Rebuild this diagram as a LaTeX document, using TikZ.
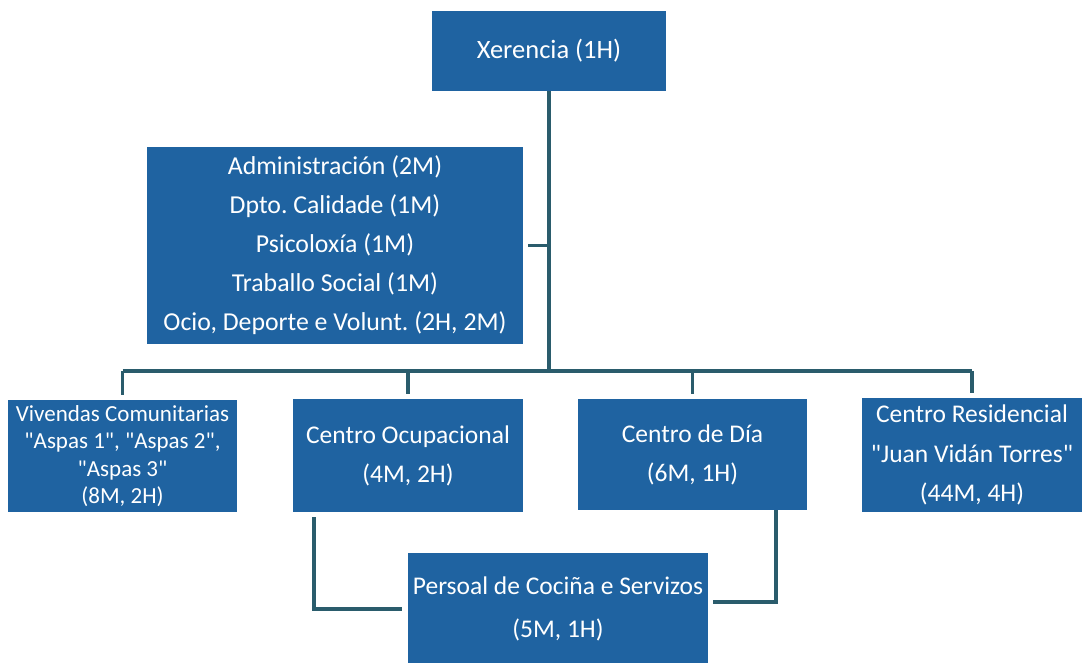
\documentclass[tikz,border=0pt]{standalone}
\usepackage{fontspec}
\setmainfont{Carlito}
\newfontfamily\quotefont{Carlito}[Ligatures=TeXOff]
\usetikzlibrary{calc}
\definecolor{boxblue}{RGB}{31,99,161}
\definecolor{connteal}{RGB}{42,92,108}
\newcommand{\sq}{{\quotefont\symbol{34}}}
\frenchspacing
\begin{document}
\begin{tikzpicture}[x=1pt,y=-1pt,
  box/.style={fill=boxblue,draw=none,text=white,align=center,inner sep=0pt,
    font=\fontsize{25.8}{39}\selectfont},
  conn/.style={draw=connteal,line width=3.5pt,line join=miter}]
\useasboundingbox (0,0) rectangle (1086,662);
\node[box,minimum width=234pt,minimum height=80pt,font=\fontsize{26.5}{32}\selectfont] (xer) at (549,51) {Xerencia (1H)};
\node[box,minimum width=376pt,minimum height=197pt] (mid) at (335,245.5)
  {Administración (2M)\\Dpto. Calidade (1M)\\Psicoloxía (1M)\\Traballo Social (1M)\\Ocio, Deporte e Volunt. (2H, 2M)};
\node[box,minimum width=229pt,minimum height=112pt,font=\fontsize{23}{27.5}\selectfont] (b1) at (122.5,456)
  {Vivendas Comunitarias\\\sq Aspas 1\sq, \sq Aspas 2\sq,\\\sq Aspas 3\sq\\(8M, 2H)};
\node[box,minimum width=230pt,minimum height=113pt,font=\fontsize{25.5}{39}\selectfont] (b2) at (408,455.5)
  {Centro Ocupacional\\(4M, 2H)};
\node[box,minimum width=229pt,minimum height=111pt,font=\fontsize{25.5}{39}\selectfont] (b3) at (692.5,454.5)
  {Centro de Día\\(6M, 1H)};
\node[box,minimum width=220pt,minimum height=114pt,font=\fontsize{25.5}{39.5}\selectfont] (b4) at (972,455)
  {Centro Residencial\\\sq Juan Vidán Torres\sq\\(44M, 4H)};
\node[box,minimum width=300pt,minimum height=112pt,font=\fontsize{25.5}{43}\selectfont] (per) at (558,609)
  {Persoal de Cociña e Servizos\\(5M, 1H)};
\coordinate (bus) at (549,371);
\draw[conn] (xer.south) -- (bus);
\draw[conn,shorten <=5pt] (mid.east) -- (mid.east -| xer.south);
\draw[conn] (b1.north |- bus) -- (b4.north |- bus);
\foreach \n in {b1,b2,b3,b4}
  \draw[conn,shorten >=5pt] (\n.north |- bus) -- (\n.north);
\draw[conn,shorten <=5pt,shorten >=6pt] ($(b2.south west)+(21,0)$) |- (per.west);
\draw[conn,shorten >=5pt] ($(b3.south east)+(-31,0)$) |- ($(per.east)+(0,-7)$);
\end{tikzpicture}
\end{document}
